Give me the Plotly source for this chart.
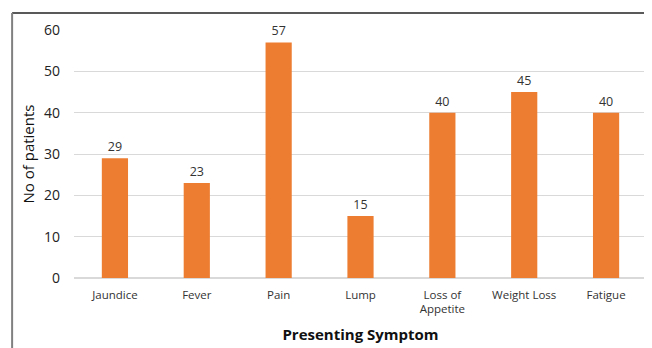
import plotly.graph_objects as go

categories = ["Jaundice", "Fever", "Pain", "Lump", "Loss of<br>Appetite", "Weight Loss", "Fatigue"]
patients = [29, 23, 57, 15, 40, 45, 40]
y_ticks = [0, 10, 20, 30, 40, 50, 60]

font_family = "Open Sans, Liberation Sans, sans-serif"

fig = go.Figure(go.Bar(
    x=categories, y=patients,
    marker=dict(color="#ED7D31", line=dict(width=0)),
    text=[str(v) for v in patients], textposition="outside",
    textfont=dict(size=12.5, color="#333333", family=font_family),
    cliponaxis=False,
))

fig.update_layout(
    width=644, height=340,
    margin=dict(l=66, r=5, t=22, b=70),
    paper_bgcolor="white", plot_bgcolor="white",
    bargap=0.68, showlegend=False,
    font=dict(family=font_family, color="#404040"),
    xaxis=dict(showline=False, ticks="", tickfont=dict(size=11.5, color="#333333"),
               ticklabelstandoff=8,
               title=dict(text="<b>Presenting Symptom</b>", font=dict(size=15, color="#111111"), standoff=14)),
    yaxis=dict(range=[0, 60], tickvals=y_ticks, showgrid=True, gridcolor="#d9d9d9", gridwidth=1,
               zeroline=True, zerolinecolor="#d9d9d9", showline=False,
               tickfont=dict(size=14, color="#222222"), ticklabelstandoff=13,
               title=dict(text="No of patients", font=dict(size=15, color="#111111"), standoff=5)),
    shapes=[
        dict(type="line", xref="paper", yref="paper", x0=-0.108, x1=1.03, y0=1.069, y1=1.069,
             line=dict(color="#222222", width=1.5)),
        dict(type="line", xref="paper", yref="paper", x0=-0.108, x1=-0.108, y0=1.069, y1=-0.3,
             line=dict(color="#808080", width=2)),
    ],
)

fig.write_html("out.html")
